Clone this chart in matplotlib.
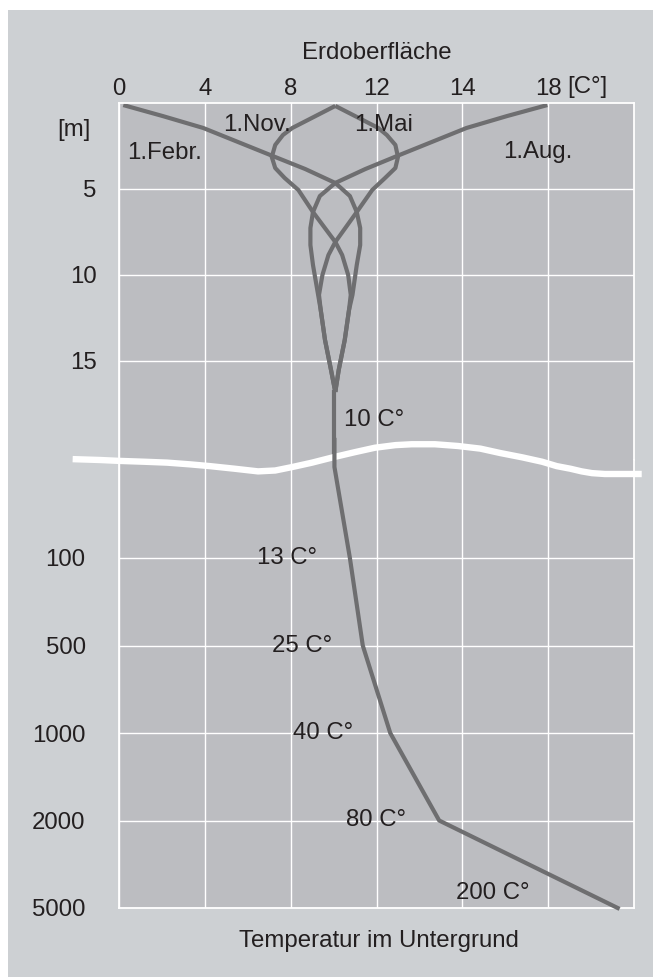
import matplotlib.pyplot as plt
from matplotlib.patches import Rectangle

plt.rcParams['font.family'] = ['Liberation Sans', 'DejaVu Sans']

PANEL = '#cdd0d3'
PLOT = '#bcbdc1'
LINE = '#6e6e70'
INK = '#231f20'
FS = 17.3

# x axis: one grid column per label
temp_ticks = ['0', '4', '8', '12', '14', '18']

# upper part, depth in m, x in grid columns
depth_ticks = [5, 10, 15]
febr_x = [0.05, 0.51, 0.98, 1.79, 2.17, 2.52, 2.69, 2.77, 2.81, 2.81, 2.77, 2.72, 2.68, 2.63, 2.56, 2.52]
febr_m = [0.12, 0.76, 1.45, 3.08, 3.84, 4.65, 5.41, 6.34, 7.27, 8.26, 9.42, 11.16, 12.03, 13.78, 15.52, 16.8]
aug_x = [4.99, 4.52, 4.05, 3.24, 2.87, 2.52, 2.34, 2.26, 2.23, 2.23, 2.26, 2.32, 2.35, 2.40, 2.47, 2.52]
aug_m = [0.12, 0.76, 1.45, 3.08, 3.84, 4.65, 5.41, 6.34, 7.27, 8.26, 9.42, 11.16, 12.03, 13.78, 15.52, 16.8]
nov_x = [2.52, 2.02, 1.91, 1.82, 1.78, 1.82, 1.93, 2.09, 2.26, 2.52, 2.60, 2.67, 2.70, 2.68, 2.63, 2.56, 2.52]
nov_m = [0.17, 1.45, 1.86, 2.44, 3.14, 3.78, 4.36, 5.06, 6.34, 8.08, 8.84, 10.0, 11.16, 12.03, 13.78, 15.52, 16.8]
mai_x = [2.52, 3.02, 3.12, 3.22, 3.25, 3.22, 3.10, 2.95, 2.77, 2.52, 2.44, 2.37, 2.33, 2.35, 2.40, 2.47, 2.52]
mai_m = [0.17, 1.45, 1.86, 2.44, 3.14, 3.78, 4.36, 5.06, 6.34, 8.08, 8.84, 10.0, 11.16, 12.03, 13.78, 15.52, 16.8]
stem_x = 2.51
stem_m = [16.8, 21.0]

# deep part, one row per depth level
deep_levels = ['100', '500', '1000', '2000', '5000']
deep_x = [2.69, 2.84, 3.16, 3.73, 5.81]
deep_labels = ['13 C°', '25 C°', '40 C°', '80 C°', '200 C°']

# white break line between the two parts
break_x = [-0.54, -0.22, 0.0, 0.30, 0.56, 0.83, 1.06, 1.35, 1.62, 1.82, 2.02, 2.25, 2.49,
           2.75, 2.98, 3.22, 3.41, 3.68, 3.95, 4.21, 4.44, 4.70, 4.93, 5.10, 5.26, 5.39,
           5.51, 5.66, 5.78, 6.09]
break_y = [-1.13, -1.12, -1.11, -1.10, -1.09, -1.07, -1.05, -1.02, -0.99, -1.00, -1.04, -1.09,
           -1.15, -1.21, -1.26, -1.29, -1.30, -1.30, -1.28, -1.25, -1.20, -1.15, -1.10, -1.05,
           -1.02, -0.99, -0.97, -0.96, -0.96, -0.96]

W, H = 653, 977
fig = plt.figure(figsize=(W / 100, H / 100), dpi=100)
fig.patches.append(Rectangle((8 / W, 0), 1, 1 - 10 / H, transform=fig.transFigure,
                             facecolor=PANEL, edgecolor='none', zorder=-1))

left, width = 119 / W, 515 / W
ax_top = fig.add_axes([left, 1 - 460 / H, width, (460 - 103) / H])
ax_bot = fig.add_axes([left, 1 - 908 / H, width, (908 - 460) / H])

for ax in (ax_top, ax_bot):
    ax.set_facecolor(PLOT)
    ax.set_xlim(0, 6)
    ax.set_xticks(range(6))
    ax.grid(True, color='white', linewidth=1.0)
    ax.set_axisbelow(True)
    for s in ax.spines.values():
        s.set_color('white')
        s.set_linewidth(1.3)
    ax.tick_params(length=0, labelsize=FS, colors=INK)

# upper part
ax_top.set_ylim(20.76, 0)
ax_top.xaxis.tick_top()
ax_top.set_xticklabels(temp_ticks)
ax_top.tick_params(axis='x', pad=2.5)
ax_top.set_yticks(depth_ticks)
ax_top.set_yticklabels([str(d) for d in depth_ticks])
ax_top.tick_params(axis='y', pad=16)
ax_top.spines['bottom'].set_visible(False)

for xs, ms in [(febr_x, febr_m), (aug_x, aug_m), (nov_x, nov_m), (mai_x, mai_m)]:
    ax_top.plot(xs, ms, color=LINE, lw=3, solid_joinstyle='round', solid_capstyle='butt')
ax_top.plot([stem_x, stem_x], stem_m, color=LINE, lw=3)

ax_top.text(5.22, -0.93, '[C°]', fontsize=FS, color=INK, ha='left', va='center')
ax_top.text(-0.52, 1.57, '[m]', fontsize=FS, color=INK, ha='center', va='center')
ax_top.text(0.09, 2.91, '1.Febr.', fontsize=FS, color=INK, ha='left', va='center')
ax_top.text(1.61, 1.28, '1.Nov.', fontsize=FS, color=INK, ha='center', va='center')
ax_top.text(3.08, 1.28, '1.Mai', fontsize=FS, color=INK, ha='center', va='center')
ax_top.text(4.88, 2.85, '1.Aug.', fontsize=FS, color=INK, ha='center', va='center')
ax_top.text(2.62, 18.43, '10 C°', fontsize=FS, color=INK, ha='left', va='center')

# deep part
ax_bot.set_ylim(4, -1.12)
ax_bot.tick_params(axis='x', labelbottom=False)
ax_bot.set_yticks(range(len(deep_levels)))
ax_bot.set_yticklabels(deep_levels)
ax_bot.tick_params(axis='y', pad=24)
ax_bot.spines['top'].set_visible(False)

ax_bot.plot(break_x, break_y, color='white', lw=4.6, solid_capstyle='butt',
            solid_joinstyle='round', clip_on=False, zorder=3)
ax_bot.plot([stem_x, stem_x] + deep_x, [-1.35, -1.04] + list(range(len(deep_x))),
            color=LINE, lw=3, solid_joinstyle='round', clip_on=False, zorder=4)

label_x = [2.31, 2.49, 2.73, 3.34, 4.78]
label_y = [0, 1, 2, 3, 3.83]
for lx, ly, lab in zip(label_x, label_y, deep_labels):
    ax_bot.text(lx, ly, lab, fontsize=FS, color=INK, ha='right', va='center')

fig.text(377 / W, 1 - 53 / H, 'Erdoberfläche', fontsize=FS, color=INK, ha='center', va='center')
fig.text(379 / W, 1 - 941 / H, 'Temperatur im Untergrund', fontsize=FS, color=INK,
         ha='center', va='center')

fig.savefig('out.png', dpi=100, facecolor='white')
